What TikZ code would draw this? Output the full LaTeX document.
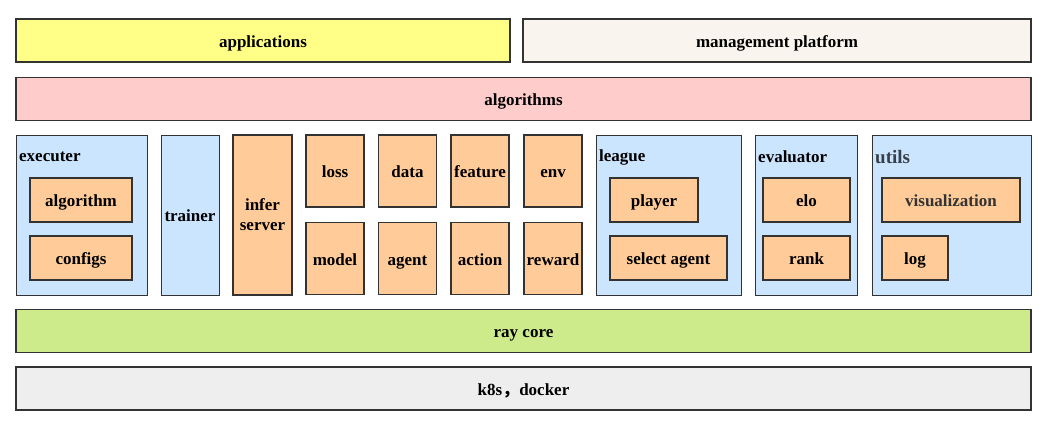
\documentclass[tikz,border=0pt]{standalone}
\usepackage{fontspec}
\setmainfont{Liberation Serif}
\newfontfamily\cjk{Noto Sans CJK SC}
\usepackage{tikz}
\usetikzlibrary{positioning}
\definecolor{cYellow}{HTML}{FFFF88}
\definecolor{cCream}{HTML}{F9F5EE}
\definecolor{cPink}{HTML}{FFCCCC}
\definecolor{cBlue}{HTML}{CCE5FF}
\definecolor{cOrange}{HTML}{FFCC99}
\definecolor{cGreen}{HTML}{CDEB8B}
\definecolor{cGrey}{HTML}{EEEEEE}
\definecolor{cEdge}{HTML}{333333}
\definecolor{cUtils}{HTML}{36404A}

\tikzset{
  layer/.style={draw=cEdge, line width=1.6pt, minimum height=43pt, minimum width=1015pt,
                font=\fontsize{17}{19}\selectfont\bfseries, inner sep=0pt,
                text height=1.3em, text depth=0em},
  group/.style={draw=cEdge, line width=1.3pt, fill=cBlue, anchor=north west, inner sep=0pt},
  part/.style={draw=cEdge, line width=1.3pt, fill=cOrange, inner sep=0pt,
               font=\fontsize{17}{19}\selectfont\bfseries, text height=1.3em, text depth=0em},
  title/.style={anchor=west, inner sep=0pt, font=\fontsize{17}{19}\selectfont\bfseries}
}

\begin{document}
\begin{tikzpicture}[x=1pt, y=-1pt]
    \useasboundingbox (0,0) rectangle (1048,426);
    % top layers
    \node[layer, fill=cYellow, minimum width=494pt] (apps) at (263,40.5) {applications};
    \node[layer, fill=cCream, minimum width=508pt] (mgmt) at (777,40.5) {management platform};
    \node[layer, fill=cPink] (algos) at (523.5,99) {algorithms};
    % executer
    \node[group, minimum width=131pt, minimum height=160pt] (executer) at (16,135) {};
    \node[title] (executerlbl) at (19,157) {executer};
    \node[part, minimum width=102pt, minimum height=44pt] (algorithm) at (81,200) {algorithm};
    \node[part, minimum width=102pt, minimum height=44pt] (configs) at (81,258) {configs};
    % trainer, infer server
    \node[group, minimum width=58pt, minimum height=160pt] (trainer) at (161,135) {};
    \node[font=\fontsize{17}{19}\selectfont\bfseries, text height=1.1em, text depth=0em]
        (trainerlbl) at (190,216) {trainer};
    \node[part, minimum width=59pt, minimum height=160pt, text height=, text depth=, align=center]
        (infer) at (262.5,215) {\raisebox{-3pt}{infer}\\[1pt]\raisebox{-3pt}{server}};
    % small parts
    \node[part, minimum width=58pt, minimum height=72pt] (loss) at (335,171) {loss};
    \node[part, minimum width=58pt, minimum height=72pt] (model) at (335,258.5) {model};
    \node[part, minimum width=58pt, minimum height=72pt] (data) at (407.5,171) {data};
    \node[part, minimum width=58pt, minimum height=72pt] (agent) at (407.5,258.5) {agent};
    \node[part, minimum width=58pt, minimum height=72pt] (feature) at (480,171) {feature};
    \node[part, minimum width=58pt, minimum height=72pt] (action) at (480,258.5) {action};
    \node[part, minimum width=58pt, minimum height=72pt] (env) at (553,171) {env};
    \node[part, minimum width=58pt, minimum height=72pt] (reward) at (553,258.5) {reward};
    % league
    \node[group, minimum width=145pt, minimum height=160pt] (league) at (596,135) {};
    \node[title] (leaguelbl) at (599,157) {league};
    \node[part, minimum width=88pt, minimum height=44pt] (player) at (654,200) {player};
    \node[part, minimum width=117pt, minimum height=44pt] (select) at (668.5,258) {select agent};
    % evaluator
    \node[group, minimum width=102pt, minimum height=160pt] (evaluator) at (755,135) {};
    \node[title] (evaluatorlbl) at (758,157) {evaluator};
    \node[part, minimum width=87pt, minimum height=44pt] (elo) at (806.5,200) {elo};
    \node[part, minimum width=87pt, minimum height=44pt] (rank) at (806.5,258) {rank};
    % utils
    \node[group, minimum width=159pt, minimum height=160pt] (utils) at (872,135) {};
    \node[title, text=cUtils, font=\fontsize{19}{21}\selectfont\bfseries] (utilslbl) at (875,157) {utils};
    \node[part, text=cEdge, minimum width=138pt, minimum height=44pt] (visual) at (951,200) {visualization};
    \node[part, minimum width=66pt, minimum height=44pt] (log) at (915,258) {log};
    % bottom layers
    \node[layer, fill=cGreen] (ray) at (523.5,331) {ray core};
    \node[layer, fill=cGrey] (infra) at (523.5,388.5) {k8s{\cjk ，}docker};
\end{tikzpicture}
\end{document}
